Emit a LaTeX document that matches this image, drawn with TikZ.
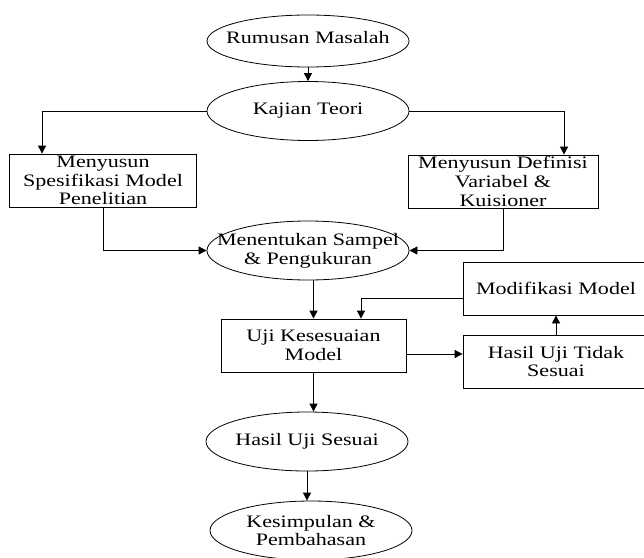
\documentclass[tikz,border=0pt]{standalone}
\usepackage{fontspec}
\setmainfont{Liberation Serif}[FakeStretch=1.26]
\usetikzlibrary{arrows.meta,positioning,shapes.geometric,calc}
\newcommand{\diafont}{\fontsize{17.5}{18.8}\selectfont}
\tikzset{
  oval/.style ={draw, ellipse, minimum width=202pt, minimum height=59pt, inner sep=0pt, line width=0.8pt},
  box/.style  ={draw, rectangle, minimum width=187pt, minimum height=53pt, inner sep=0pt, align=center, font=\diafont, line width=0.8pt},
  txt/.style  ={align=center, font=\diafont, inner sep=0pt},
  flow/.style ={-{Triangle[length=8pt, width=8pt]}, line width=0.8pt}
}
\begin{document}
\begin{tikzpicture}[x=1pt, y=-1pt]
  \useasboundingbox (0,0) rectangle (644,557);
  \clip (0,0) rectangle (644,557);
  % alur utama
  \node[oval, minimum height=52pt, label={[txt, yshift=3pt]center:Rumusan Masalah}] (rumusan) at (308,41) {};
  \node[oval, label={[txt]center:Kajian Teori}] (kajian) at (308,111) {};
  \node[box] (spesifikasi) at (103,180.5) {Menyusun\\Spesifikasi Model\\Penelitian};
  \node[box, minimum width=190pt] (definisi) at (503,181.5) {Menyusun Definisi\\Variabel \&\\Kuisioner};
  \node[oval, label={[txt]center:{Menentukan Sampel\\\& Pengukuran}}] (sampel) at (308,250.5) {};
  \node[box, minimum width=185pt] (uji) at (313.5,345.5) {Uji Kesesuaian\\Model};
  \node[box, minimum width=186pt] (modifikasi) at (556,288.5) {Modifikasi Model};
  \node[box, minimum width=186pt] (tidak) at (556,361.5) {Hasil Uji Tidak\\Sesuai};
  \node[oval, label={[txt]center:Hasil Uji Sesuai}] (sesuai) at (307,441.5) {};
  \node[oval, label={[txt]center:{Kesimpulan \&\\Pembahasan}}] (kesimpulan) at (311,530.5) {};
  % panah
  \draw[flow] (rumusan) -- (kajian);
  \draw[flow] (kajian.west) -| ([xshift=-61pt]spesifikasi.north);
  \draw[flow] (kajian.east) -| ([xshift=61pt]definisi.north);
  \draw[flow] (spesifikasi.south) |- (sampel.west);
  \draw[flow] (definisi.south) |- (sampel.east);
  \draw[flow] (uji.north |- sampel.south) -- (uji.north);
  \draw[flow] ([yshift=-9.5pt]modifikasi.west) -| ([xshift=47.5pt]uji.north);
  \draw[flow] ([yshift=-8.5pt]uji.east) -- ([yshift=7.5pt]tidak.west);
  \draw[flow] (tidak) -- (modifikasi);
  \draw[flow] (uji.south) -- (uji.south |- sesuai.north);
  \draw[flow] (sesuai.south) -- (sesuai.south |- kesimpulan.north);
\end{tikzpicture}
\end{document}
